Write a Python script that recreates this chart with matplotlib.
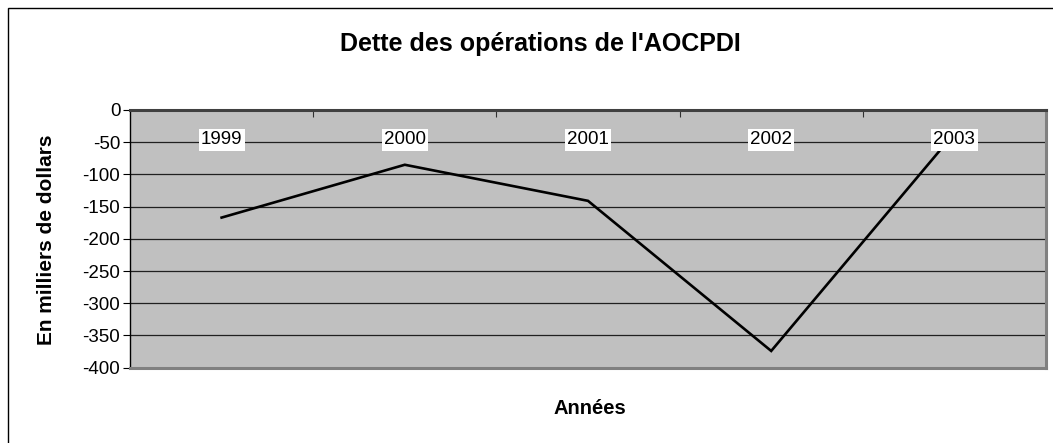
import matplotlib
matplotlib.use("Agg")
import matplotlib.pyplot as plt
from matplotlib.patches import Rectangle

plt.rcParams['font.family'] = ['Liberation Sans', 'DejaVu Sans']

years = ["1999", "2000", "2001", "2002", "2003"]
dette = [-167, -85, -141, -374, -36]
yticks = [0, -50, -100, -150, -200, -250, -300, -350, -400]
title = "Dette des opérations de l'AOCPDI"
ylabel = "En milliers de dollars"
xlabel = "Années"

W, H = 1053, 443
fig = plt.figure(figsize=(W / 100, H / 100), dpi=100)

# outer chart border
fig.patches.append(Rectangle((8 / W, -0.05), 1.2, (H - 8) / H + 0.05, transform=fig.transFigure,
                             fill=False, edgecolor='black', linewidth=1.0, zorder=0))

L, R, T, B = 130, 1046, 110, 367.7
ax = fig.add_axes([L / W, 1 - B / H, (R - L) / W, (B - T) / H])
ax.set_facecolor('#C0C0C0')

x = list(range(len(years)))
ax.plot(x, dette, color='black', linewidth=1.9, zorder=3, solid_joinstyle='miter')

ax.set_xlim(-0.5, len(years) - 0.5)
ax.set_ylim(-400, 0)
ax.set_yticks(yticks)
ax.set_yticklabels([str(v) for v in yticks], fontsize=13.5)
ax.yaxis.grid(True, color='#202020', linewidth=0.9)
ax.set_axisbelow(True)
ax.tick_params(axis='y', direction='out', length=5, width=0.8, pad=2, color='black')

# category boundary ticks at top
ax.set_xticks([i + 0.5 for i in range(len(years) - 1)])
ax.set_xticklabels([])
ax.tick_params(axis='x', which='both', bottom=False, top=True, direction='in',
               length=5, width=0.8, color='#303030', labelbottom=False)

for s in ['top', 'right', 'bottom']:
    ax.spines[s].set_color('#808080')
    ax.spines[s].set_linewidth(2.2)
ax.spines['top'].set_color('#404040')
ax.spines['left'].set_color('black')
ax.spines['left'].set_linewidth(1.0)

for i, yr in enumerate(years):
    ax.annotate(yr, xy=(i, 1), xycoords=('data', 'axes fraction'),
                xytext=(0, -30), textcoords='offset pixels',
                ha='center', va='center', fontsize=13.5, zorder=5,
                bbox=dict(boxstyle='square,pad=0.12', facecolor='white', edgecolor='none'))

fig.text(540 / W, 1 - 44 / H, title, ha='center', va='center', fontsize=18, fontweight='bold')
fig.text(47 / W, 1 - 240 / H, ylabel, ha='center', va='center', rotation=90,
         fontsize=15, fontweight='bold')
fig.text(590 / W, 1 - 408 / H, xlabel, ha='center', va='center', fontsize=14.5, fontweight='bold')

fig.savefig('out.png', dpi=100)
